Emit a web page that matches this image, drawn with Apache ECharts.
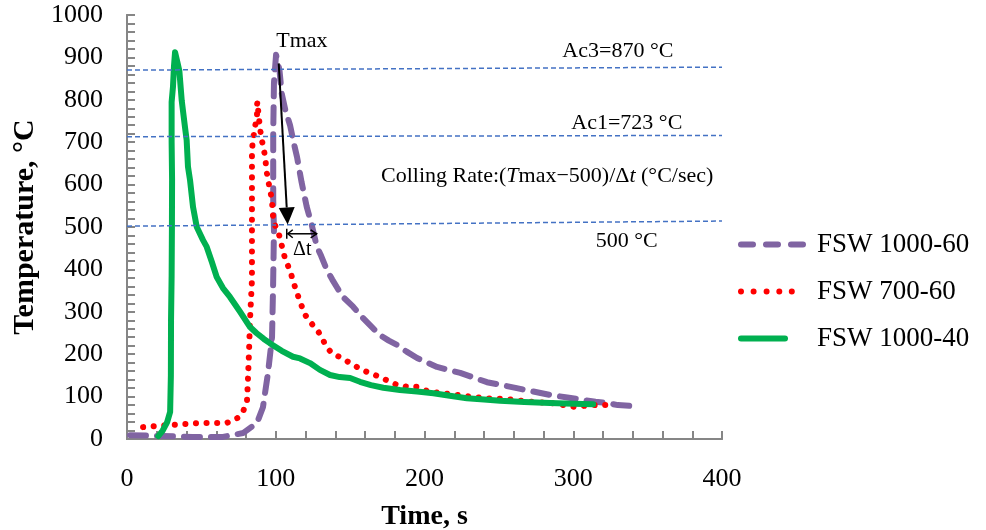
<!DOCTYPE html>
<html>
<head>
<meta charset="utf-8">
<script src="https://cdn.jsdelivr.net/npm/echarts@6/dist/echarts.min.js"></script>
<style>html,body{margin:0;padding:0;background:#fff;}#main{width:986px;height:530px;}</style>
</head>
<body>
<div id="main"></div>
<script>
// ---- data: [time s, temperature °C] ----
const seriesNames = ['FSW 1000-60', 'FSW 700-60', 'FSW 1000-40'];
const fsw1000_60 = [
  [2,9],[24,7],[44,5],[64.5,5],[78,14],[87.4,38],[91.4,75],[94.8,156],[97.5,240],[98.2,358],[98.8,493],
  [98.3,564],[98.3,722],[98.8,840],[100.2,906],[102.5,870],[104,815],[106.5,775],[109.6,740],[112,700],
  [114.3,665],[117.4,605],[120.8,548],[124.2,505],[127.6,454],[130.5,432],[134.3,399],[138,376],[141.1,358],
  [145.2,335],[152,312],[158.7,285],[164,266],[170.1,245],[176,232],[181.5,222],[188,206],[195,191],
  [208.4,170],[216,163],[224,156],[233,145],[242,134],[252,127],[262,120],[273,112],[284.4,104],
  [296,98],[306.6,92],[315,88],[322.7,85],[330,80],[340,78]
];
const fsw700_60 = [
  [10.8,28],[28.9,33],[49,38],[67.2,38],[74.6,50],[78,64],[80.7,92],[81.3,139],[82,203],[82.7,281],
  [84,375],[84,493],[84,604],[84,682],[84.7,705],[86,736],[87.4,759],[87.4,788],[87.7,795],[88.3,770],
  [89.3,737],[90.5,705],[91.2,697],[92.8,667],[93.9,630],[96.1,587],[97.3,568],[98,536],[98.4,512],
  [101.7,489],[104,457],[106.2,426],[109.6,397],[112.9,359],[116.3,324],[119.7,293],[123,277],[128.6,253],
  [130.9,241],[132.4,229],[137.1,204],[144.7,190],[152.1,175],[157.8,163],[166.7,151],[175.7,137],
  [182,127],[189,123],[195,123],[202.6,112],[211.5,108],[221.6,104],[230.6,100],[241.8,96],[255.3,94],
  [271,88],[286.6,84],[293.3,80],[299,76],[306.8,78],[314.6,80],[323.6,80]
];
const fsw1000_40 = [
  [21,7],[24,20],[27,40],[29,64],[29.5,150],[29.6,280],[30,385],[30.2,500],[30.3,613],[30,700],[30,795],
  [30.9,830],[31.6,880],[32.3,912],[33.8,890],[35.2,868],[36.8,798],[39,735],[40.1,705],[41,642],[42.4,610],
  [44.4,547],[46.9,500],[51.1,469],[53.6,453],[57,418],[60.3,382],[64.5,356],[69.2,335],[76,300],[82.7,264],
  [87,250],[92,236],[96,226],[104,208],[111.6,194],[116.3,190],[123,179],[129.7,163],[136.5,151],[143,146],
  [150,144],[156.6,135],[164,127],[172.3,121],[183.5,115.5],[195,112],[206,108],[217,102],[228.5,96],
  [240,93],[250.8,90],[267,87],[284.4,85],[300,83],[313.4,82]
];
// reference (dashed) lines as drawn
const ac3Line = [[0,870],[400,877]];
const ac1Line = [[0,713],[400,716]];
const line500 = [[0,502],[400,514]];
// axis ticks
const xTicks = {min:0, max:400, step:100};
const yTicks = {min:0, max:1000, step:100};
// annotation anchors (data coordinates)
const tmaxArrow = [[102,886],[108,506]];
const dtArrow = [[107.4,484],[127.5,484]];
const annoTexts = [
  {t:117.6, T:937, text:'Tmax'},
  {t:330, T:914, text:'Ac3=870 °C'},
  {t:336, T:745, text:'Ac1=723 °C'},
  {t:282.5, T:619, text:'Colling Rate:({i|T}max−500)/Δ{i|t} (°C/sec)'},
  {t:336, T:466, text:'500 °C'},
  {t:117.8, T:446, text:'Δt', size:20}
];

const FONT = 'Liberation Serif';
const axisGray = '#868686';
const chart = echarts.init(document.getElementById('main'));

// legend icons (68 x 6 boxes)
function rr(x0, x1){
  return 'M'+(x0+3)+',0H'+(x1-3)+'A3,3,0,0,1,'+(x1-3)+',6H'+(x0+3)+'A3,3,0,0,1,'+(x0+3)+',0Z';
}
function dot(cx){ return 'M'+(cx-3)+',3A3,3,0,1,0,'+(cx+3)+',3A3,3,0,1,0,'+(cx-3)+',3Z'; }
const box = 'M0,0M68,6';
const iconPurple = 'path://'+box+rr(0,18)+rr(25,43)+rr(50,68);
const iconRed = 'path://'+box+dot(3)+dot(15.6)+dot(28.6)+dot(41.3)+dot(53.8);
const iconGreen = 'path://'+box+rr(0,50);

const refStyle = {color:'#4472C4', width:1.5, type:[5,3]};
const option = {
  animation:false,
  grid:{left:127, right:264, top:15, bottom:91, outerBoundsMode:'none'},
  legend:{
    data:[
      {name:seriesNames[0], icon:iconPurple},
      {name:seriesNames[1], icon:iconRed},
      {name:seriesNames[2], icon:iconGreen}
    ],
    orient:'vertical', left:738, top:231, padding:0,
    itemWidth:68, itemHeight:6, itemGap:20, symbolKeepAspect:false,
    itemStyle:{borderWidth:0},
    textStyle:{fontFamily:FONT, fontSize:27, lineHeight:27, color:'#000', padding:[0,0,0,6]}
  },
  xAxis:[
    {
      type:'value', min:xTicks.min, max:xTicks.max, interval:xTicks.step,
      name:'Time, s', nameLocation:'middle', nameGap:64,
      nameTextStyle:{fontFamily:FONT, fontSize:28, fontWeight:'bold', color:'#000'},
      axisLine:{show:true, lineStyle:{color:axisGray, width:2}},
      axisTick:{show:false}, splitLine:{show:false},
      axisLabel:{fontFamily:FONT, fontSize:26, color:'#000', margin:27, formatter:function(v){return String(v);}}
    },
    {
      type:'value', min:xTicks.min, max:xTicks.max, interval:xTicks.step, position:'bottom',
      axisLine:{show:true, lineStyle:{color:axisGray, width:2}},
      axisTick:{show:true, inside:true, length:8, lineStyle:{color:axisGray, width:2}},
      minorTick:{show:true, splitNumber:5, length:8, lineStyle:{color:axisGray, width:2}},
      axisLabel:{show:false}, splitLine:{show:false}
    }
  ],
  yAxis:[
    {
      type:'value', min:yTicks.min, max:yTicks.max, interval:yTicks.step,
      name:'Temperature, °C', nameLocation:'middle', nameGap:84,
      nameTextStyle:{fontFamily:FONT, fontSize:30, fontWeight:'bold', color:'#000'},
      axisLine:{show:true, lineStyle:{color:axisGray, width:2}},
      axisTick:{show:false}, splitLine:{show:false},
      axisLabel:{fontFamily:FONT, fontSize:26, color:'#000', margin:24, formatter:function(v){return String(v);}}
    },
    {
      type:'value', min:yTicks.min, max:yTicks.max, interval:yTicks.step, position:'left',
      axisLine:{show:true, lineStyle:{color:axisGray, width:2}},
      axisTick:{show:true, inside:true, length:8, lineStyle:{color:axisGray, width:2}},
      minorTick:{show:true, splitNumber:5, length:8, lineStyle:{color:axisGray, width:2}},
      axisLabel:{show:false}, splitLine:{show:false}
    }
  ],
  series:[
    {name:seriesNames[0], type:'line', data:fsw1000_60, showSymbol:false, symbol:'none',
     lineStyle:{color:'#8064A2', width:6, type:[16,11], cap:'round', join:'round'}, itemStyle:{color:'#8064A2'}, z:3},
    {name:seriesNames[1], type:'line', data:fsw700_60, showSymbol:false, symbol:'none',
     lineStyle:{color:'#FF0000', width:6, type:[0.1,10.5], cap:'round', join:'round'}, itemStyle:{color:'#FF0000'}, z:4},
    {name:seriesNames[2], type:'line', data:fsw1000_40, showSymbol:false, symbol:'none',
     lineStyle:{color:'#00B050', width:6, cap:'round', join:'round'}, itemStyle:{color:'#00B050'}, z:5},
    {name:'Ac3', type:'line', data:ac3Line, showSymbol:false, symbol:'none', lineStyle:refStyle, z:6, silent:true},
    {name:'Ac1', type:'line', data:ac1Line, showSymbol:false, symbol:'none', lineStyle:refStyle, z:6, silent:true},
    {name:'T500', type:'line', data:line500, showSymbol:false, symbol:'none', lineStyle:refStyle, z:6, silent:true}
  ]
};
chart.setOption(option);

function px(p){ return chart.convertToPixel({xAxisIndex:0, yAxisIndex:0}, p); }
const g = [];
(function(){
  const a = px(tmaxArrow[0]), b = px(tmaxArrow[1]);
  const dx=b[0]-a[0], dy=b[1]-a[1], L=Math.hypot(dx,dy), ux=dx/L, uy=dy/L;
  const hl=17, hw=8;
  const base=[b[0]-ux*hl, b[1]-uy*hl];
  g.push({type:'line', shape:{x1:a[0],y1:a[1],x2:base[0],y2:base[1]}, style:{stroke:'#000', lineWidth:2}, z:100});
  g.push({type:'polygon', shape:{points:[b,[base[0]-uy*hw, base[1]+ux*hw],[base[0]+uy*hw, base[1]-ux*hw]]}, style:{fill:'#000'}, z:100});
})();
(function(){
  const a = px(dtArrow[0]), b = px(dtArrow[1]);
  g.push({type:'line', shape:{x1:a[0]+1,y1:a[1],x2:b[0],y2:b[1]}, style:{stroke:'#000', lineWidth:1.5}, z:100});
  g.push({type:'line', shape:{x1:a[0],y1:a[1]-5,x2:a[0],y2:a[1]+5}, style:{stroke:'#000', lineWidth:1.5}, z:100});
  g.push({type:'polyline', shape:{points:[[a[0]+6,a[1]-4],[a[0]+1,a[1]],[a[0]+6,a[1]+4]]}, style:{stroke:'#000', lineWidth:1.5, fill:null}, z:100});
  g.push({type:'polyline', shape:{points:[[b[0]-6,b[1]-4],[b[0],b[1]],[b[0]-6,b[1]+4]]}, style:{stroke:'#000', lineWidth:1.5, fill:null}, z:100});
})();
annoTexts.forEach(function(o){
  const p = px([o.t, o.T]);
  const sz = o.size || 22;
  g.push({type:'text', x:p[0], y:p[1], z:100,
    style:{text:o.text, fill:'#000', fontFamily:FONT, fontSize:sz, align:'center', verticalAlign:'middle',
      rich:{i:{fontStyle:'italic', fontFamily:FONT, fontSize:sz, fill:'#000'}}}});
});
chart.setOption({graphic:g});
</script>
</body>
</html>
